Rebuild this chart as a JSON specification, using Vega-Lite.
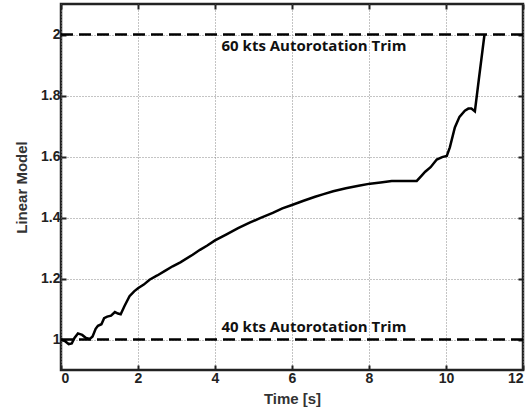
{
  "$schema": "https://vega.github.io/schema/vega-lite/v6.json",
  "autosize": {"type": "none"},
  "padding": {"left": 61, "top": 4, "right": 9, "bottom": 46},
  "width": 462,
  "height": 366,
  "background": "white",
  "config": {
    "view": {"stroke": "#222", "strokeWidth": 2.5},
    "axis": {
      "labelFont": "Liberation Sans", "labelFontWeight": "bold", "labelFontSize": 14, "labelColor": "#222",
      "titleFont": "Liberation Sans", "titleFontWeight": "bold", "titleFontSize": 15, "titleColor": "#333",
      "grid": true, "gridColor": "#888", "gridDash": [1, 2], "gridWidth": 1, "gridOpacity": 1,
      "domain": false
    }
  },
  "datasets": {
    "curve": [
      {"t": 0, "v": 1.0}, {"t": 0.1, "v": 0.995}, {"t": 0.2, "v": 0.985}, {"t": 0.28, "v": 0.987},
      {"t": 0.35, "v": 1.005}, {"t": 0.44, "v": 1.02}, {"t": 0.55, "v": 1.015}, {"t": 0.65, "v": 1.005},
      {"t": 0.75, "v": 1.002}, {"t": 0.82, "v": 1.01}, {"t": 0.9, "v": 1.035}, {"t": 0.96, "v": 1.045},
      {"t": 1.05, "v": 1.05}, {"t": 1.12, "v": 1.07}, {"t": 1.2, "v": 1.075}, {"t": 1.3, "v": 1.078},
      {"t": 1.4, "v": 1.09}, {"t": 1.48, "v": 1.085}, {"t": 1.55, "v": 1.083}, {"t": 1.65, "v": 1.11},
      {"t": 1.78, "v": 1.142}, {"t": 1.9, "v": 1.158}, {"t": 2.0, "v": 1.168}, {"t": 2.15, "v": 1.18},
      {"t": 2.3, "v": 1.196}, {"t": 2.5, "v": 1.21}, {"t": 2.7, "v": 1.225}, {"t": 2.9, "v": 1.24},
      {"t": 3.1, "v": 1.253}, {"t": 3.42, "v": 1.278}, {"t": 3.61, "v": 1.294}, {"t": 3.8, "v": 1.308},
      {"t": 4.0, "v": 1.325}, {"t": 4.3, "v": 1.345}, {"t": 4.6, "v": 1.365}, {"t": 4.9, "v": 1.383},
      {"t": 5.17, "v": 1.398}, {"t": 5.5, "v": 1.415}, {"t": 5.75, "v": 1.43}, {"t": 6.0, "v": 1.441},
      {"t": 6.3, "v": 1.455}, {"t": 6.6, "v": 1.468}, {"t": 6.8, "v": 1.476}, {"t": 7.07, "v": 1.486},
      {"t": 7.4, "v": 1.496}, {"t": 7.73, "v": 1.504}, {"t": 8.03, "v": 1.511}, {"t": 8.3, "v": 1.515},
      {"t": 8.59, "v": 1.52}, {"t": 8.9, "v": 1.52}, {"t": 9.24, "v": 1.52}, {"t": 9.35, "v": 1.535},
      {"t": 9.46, "v": 1.55}, {"t": 9.6, "v": 1.565}, {"t": 9.76, "v": 1.59}, {"t": 9.9, "v": 1.598},
      {"t": 10.02, "v": 1.602}, {"t": 10.1, "v": 1.63}, {"t": 10.23, "v": 1.695}, {"t": 10.35, "v": 1.73},
      {"t": 10.49, "v": 1.75}, {"t": 10.58, "v": 1.757}, {"t": 10.66, "v": 1.757}, {"t": 10.75, "v": 1.748},
      {"t": 10.85, "v": 1.85}, {"t": 10.95, "v": 1.95}, {"t": 11.0, "v": 2.0}
    ],
    "trims": [
      {"v": 2.0, "label": "60 kts Autorotation Trim", "tx": 6.57, "ty": 1.962},
      {"v": 1.0, "label": "40 kts Autorotation Trim", "tx": 6.57, "ty": 1.042}
    ]
  },
  "resolve": {"axis": {"x": "independent", "y": "independent"}},
  "layer": [
    {
      "data": {"name": "trims"},
      "mark": {"type": "rule", "color": "black", "strokeWidth": 2.5, "strokeDash": [12, 6]},
      "encoding": {
        "y": {"field": "v", "type": "quantitative", "scale": {"domain": [0.9, 2.1], "nice": false, "zero": false},
          "axis": {"title": "Linear Model", "values": [1, 1.2, 1.4, 1.6, 1.8, 2], "format": "~g",
            "labelPadding": 6, "titlePadding": 11, "ticks": true, "tickSize": -5, "tickWidth": 2, "tickColor": "#222"}}
      }
    },
    {
      "data": {"name": "curve"},
      "mark": {"type": "line", "color": "black", "strokeWidth": 2.5, "clip": true},
      "encoding": {
        "x": {"field": "t", "type": "quantitative", "scale": {"domain": [0, 12], "nice": false},
          "axis": {"title": "Time [s]", "values": [0, 2, 4, 6, 8, 10, 12], "labelPadding": 6, "titlePadding": 6,
            "ticks": true, "tickSize": -5, "tickWidth": 2, "tickColor": "#222"}},
        "y": {"field": "v", "type": "quantitative", "axis": null}
      }
    },
    {
      "data": {"name": "trims"},
      "mark": {"type": "point", "opacity": 0},
      "encoding": {
        "x": {"field": "tx", "type": "quantitative",
          "axis": {"orient": "top", "values": [0, 2, 4, 6, 8, 10, 12], "labels": false, "grid": false, "title": null,
            "ticks": true, "tickSize": -5, "tickWidth": 2, "tickColor": "#222"}},
        "y": {"field": "ty", "type": "quantitative",
          "axis": {"orient": "right", "values": [1, 1.2, 1.4, 1.6, 1.8, 2], "labels": false, "grid": false, "title": null,
            "ticks": true, "tickSize": -5, "tickWidth": 2, "tickColor": "#222"}}
      }
    },
    {
      "data": {"name": "trims"},
      "mark": {"type": "text", "font": "Open Sans", "fontWeight": "bold", "fontSize": 15, "color": "#111"},
      "encoding": {
        "x": {"field": "tx", "type": "quantitative", "axis": null},
        "y": {"field": "ty", "type": "quantitative", "axis": null},
        "text": {"field": "label"}
      }
    }
  ]
}
